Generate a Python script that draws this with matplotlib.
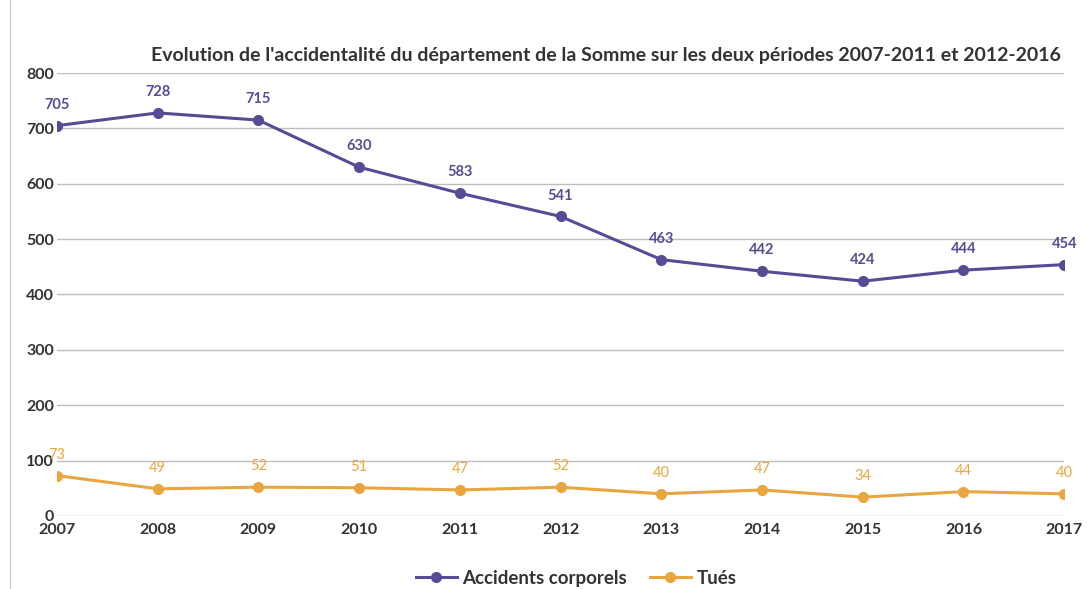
import matplotlib.pyplot as plt
import matplotlib.lines as mlines

# data
years = [2007, 2008, 2009, 2010, 2011, 2012, 2013, 2014, 2015, 2016, 2017]
accidents = [705, 728, 715, 630, 583, 541, 463, 442, 424, 444, 454]
tues = [73, 49, 52, 51, 47, 52, 40, 47, 34, 44, 40]

violet = '#564c96'
orange = '#e9a640'

plt.rcParams['font.family'] = ['Lato', 'DejaVu Sans']

fig = plt.figure(figsize=(10.87, 5.89), dpi=100)
ax = fig.add_axes([0.0524, 0.124, 0.9266, 0.752])

ax.plot(years, accidents, color=violet, lw=2.2, marker='o', ms=7, label='Accidents corporels')
ax.plot(years, tues, color=orange, lw=2.2, marker='o', ms=7, label='Tués')

for x, y in zip(years, accidents):
    ax.annotate(str(y), (x, y), xytext=(0, 10), textcoords='offset points',
                ha='center', va='bottom', color=violet, fontsize=10.5, fontweight='bold')
for x, y in zip(years, tues):
    ax.annotate(str(y), (x, y), xytext=(0, 10), textcoords='offset points',
                ha='center', va='bottom', color=orange, fontsize=10.5)

ax.set_xlim(2007, 2017)
ax.set_ylim(0, 800)
ax.set_yticks(range(0, 801, 100))
ax.set_xticks(years)
ax.grid(axis='y', color='#bdbdbd', lw=1)
ax.set_axisbelow(True)
for s in ax.spines.values():
    s.set_visible(False)
ax.tick_params(length=0, labelsize=11.5, colors='#333333')
ax.tick_params(axis='x', pad=5)
ax.tick_params(axis='y', pad=2)
for lab in ax.get_xticklabels() + ax.get_yticklabels():
    lab.set_fontweight('bold')

fig.text(0.557, 0.905, "Evolution de l'accidentalité du département de la Somme sur les deux périodes 2007-2011 et 2012-2016",
         ha='center', va='center', fontsize=14, fontweight='bold', color='#333333')

h1 = mlines.Line2D([], [], color=violet, lw=2.2, marker='o', ms=7)
h2 = mlines.Line2D([], [], color=orange, lw=2.2, marker='o', ms=7)
leg = fig.legend([h1, h2], ['Accidents corporels', 'Tués'], loc='center', bbox_to_anchor=(0.53, 0.018),
                 ncol=2, frameon=False, fontsize=13.5, handlelength=2.2, columnspacing=1.2, handletextpad=0.3)
for t in leg.get_texts():
    t.set_fontweight('bold')
    t.set_color('#333333')

fig.add_artist(mlines.Line2D([0.009, 0.009], [0, 1], color='#cccccc', lw=1))

fig.savefig('out.png', dpi=100)
